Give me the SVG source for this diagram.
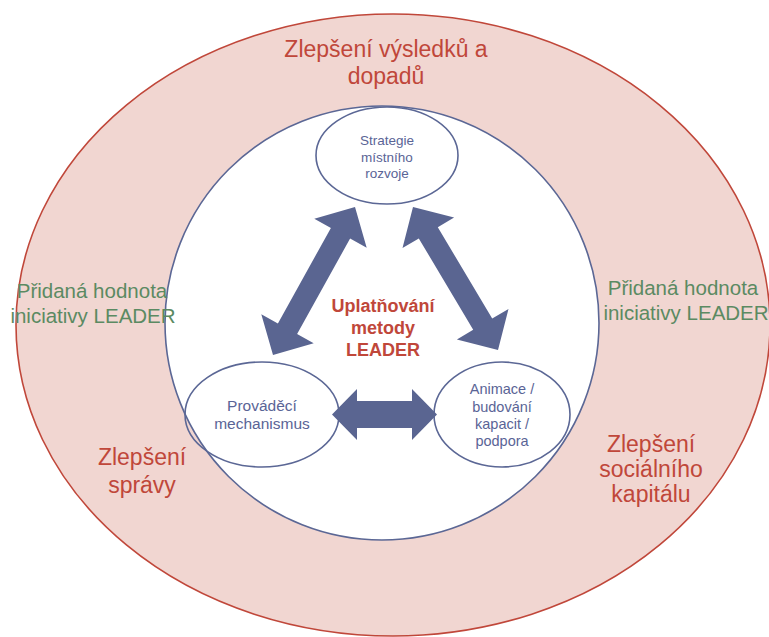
<svg xmlns="http://www.w3.org/2000/svg" width="769" height="637" viewBox="0 0 769 637">
<style>
text{font-family:"Liberation Sans",Arial,sans-serif;text-anchor:middle}
.red{fill:#c0473a;font-size:23px}
.green{fill:#5b8a62;font-size:20.5px}
.blue{fill:#5a6496}
.node{fill:none;stroke:#5b6795;stroke-width:1.6}
.arrow{fill:#5a6591;stroke:none}
.center{fill:#c0473a;font-size:18px;font-weight:bold}
</style>
<rect width="769" height="637" fill="#ffffff"/>
<g id="outer">
<ellipse cx="393" cy="325" rx="377" ry="311" fill="#f1d6d1" stroke="#c0473a" stroke-width="1.6"/>
</g>
<g id="inner">
<circle cx="382" cy="323" r="217" fill="#ffffff" stroke="#5b6795" stroke-width="1.6"/>
<text class="center"><tspan x="383" y="312">Uplatňování</tspan><tspan x="383" y="334">metody</tspan><tspan x="383" y="356">LEADER</tspan></text>
</g>
<g id="outer-labels">
<text class="red"><tspan x="386" y="57">Zlepšení výsledků a</tspan><tspan x="386" y="84">dopadů</tspan></text>
<text class="green"><tspan x="92" y="298">Přidaná hodnota</tspan><tspan x="93" y="323">iniciativy LEADER</tspan></text>
<text class="green"><tspan x="683" y="295">Přidaná hodnota</tspan><tspan x="686" y="320">iniciativy LEADER</tspan></text>
<text class="red"><tspan x="142" y="465">Zlepšení</tspan><tspan x="142" y="493">správy</tspan></text>
<text class="red"><tspan x="651" y="452">Zlepšení</tspan><tspan x="651" y="477">sociálního</tspan><tspan x="651" y="502">kapitálu</tspan></text>
</g>
<g id="strategie">
<ellipse cx="387" cy="155.5" rx="71" ry="48.5" class="node"/>
<text class="blue" font-size="13.5"><tspan x="387" y="145">Strategie</tspan><tspan x="387" y="162">místního</tspan><tspan x="387" y="178">rozvoje</tspan></text>
</g>
<g id="provadeci">
<ellipse cx="262" cy="414.5" rx="77" ry="52.5" class="node"/>
<text class="blue" font-size="15.5"><tspan x="262" y="411">Prováděcí</tspan><tspan x="262" y="429">mechanismus</tspan></text>
</g>
<g id="animace">
<ellipse cx="502" cy="414.5" rx="68" ry="52.5" class="node"/>
<text class="blue" font-size="14.5"><tspan x="502" y="394">Animace /</tspan><tspan x="502" y="412">budování</tspan><tspan x="502" y="429">kapacit /</tspan><tspan x="502" y="446">podpora</tspan></text>
</g>
<g id="connectors">
<polygon class="arrow" points="355,207 366.7,247.7 350.1,238.5 297.1,334.1 313.7,343.3 273,355 261.3,314.3 277.9,323.5 330.9,227.9 314.3,218.7"/>
<polygon class="arrow" points="413,207 454.1,217.5 437.8,227.2 492.2,318.6 508.5,308.9 498,350 456.9,339.5 473.2,329.8 418.8,238.4 402.5,248.1"/>
<polygon class="arrow" points="332,414.5 357,389 357,401 412,401 412,389 437,414.5 412,440 412,428 357,428 357,440"/>
</g>
</svg>
